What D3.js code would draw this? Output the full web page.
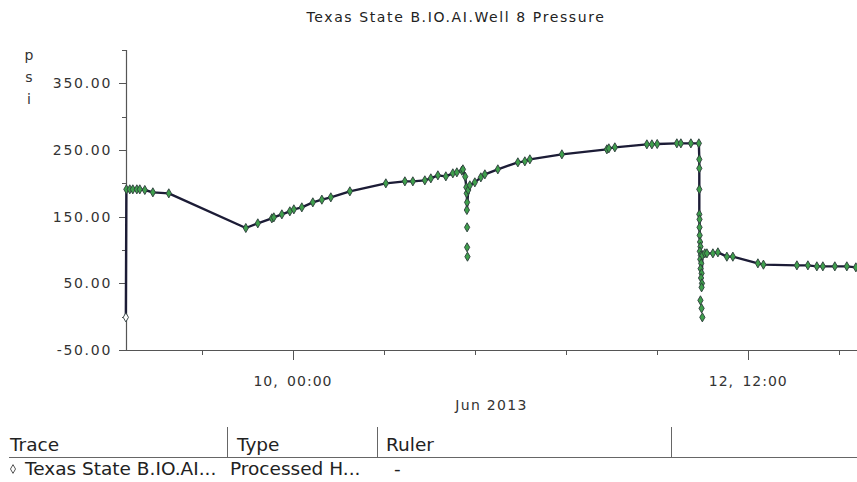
<!DOCTYPE html>
<html>
<head>
<meta charset="utf-8">
<script src="https://cdn.jsdelivr.net/npm/d3@7"></script>
<style>
  html, body { margin: 0; padding: 0; background: #fff; }
  svg { display: block; font-family: "DejaVu Sans", sans-serif; }
</style>
</head>
<body>
<div id="chart"></div>
<script>
// hours after 2013-06-09 00:00 → psi
const hours = [
  1.98, 2.05, 2.50, 2.90, 3.43, 3.82, 4.48, 5.54, 7.64, 17.79,
  19.37, 21.22, 21.48, 22.54, 23.59, 24.12, 25.17, 26.62, 27.81, 28.99,
  31.50, 36.24, 38.75, 39.80, 41.38, 42.17, 43.10, 44.15, 45.07, 45.60,
  46.26, 46.40, 46.70, 46.85, 46.90, 46.95, 46.92, 47.10, 47.31, 47.97,
  48.76, 49.29, 51.00, 53.64, 54.56, 55.22, 59.44, 65.37, 65.63, 66.42,
  70.64, 71.30, 72.00, 74.59, 75.12, 76.44, 77.49, 77.55, 77.55, 77.55,
  77.55, 77.58, 77.58, 77.60, 77.65, 77.70, 77.62, 77.75, 77.68, 77.80,
  77.72, 77.85, 77.78, 77.90, 77.85, 77.95, 78.28, 78.55, 79.34, 80.00,
  81.18, 81.97, 85.27, 86.00, 90.41, 91.86, 93.04, 93.83, 95.41, 96.99,
  98.18
];
const psi = [
  -1, 191, 191, 191, 191, 191, 190, 186.5, 185, 133,
  140, 147.5, 149, 153.5, 158, 161, 164, 171.5, 175.5, 179,
  188, 200, 203, 203, 204.5, 207.5, 212, 210.5, 215, 216.5,
  219, 221, 210, 194, 185, 171.5, 160, 190, 197, 201.5,
  209, 213.5, 221, 231.5, 233, 236, 243.5, 251, 252.5, 254,
  258.5, 258.5, 259, 260, 260, 260, 260, 236, 222.5, 191,
  153.5, 146, 134, 122, 112, 105, 98, 92, 86, 80,
  72, 65, 58, 50, 44, 92, 95, 95, 95, 96.5,
  90, 90, 80, 78, 77, 77, 75.5, 75.5, 75.5, 75.5,
  74
];
// stray samples during the two drops (markers only)
const spikeHours = [46.95, 46.95, 47.00, 77.70, 77.85, 77.95];
const spikePsi   = [134, 104, 90, 24.5, 12.5, -1];

const yTicks      = [-50, 0, 50, 100, 150, 200, 250, 300, 350, 400];
const yLabelTicks = [-50, 50, 150, 250, 350];
const xLabelTicks = ['2013-06-10T00:00', '2013-06-12T12:00'];
const xLabels     = ['10, 00:00', '12, 12:00'];

const title     = 'Texas State B.IO.AI.Well 8 Pressure';
const unit      = ['p', 's', 'i'];
const monthText = 'Jun 2013';
const headers   = ['Trace', 'Type', 'Ruler'];
const rowCells  = ['Texas State B.IO.AI...', 'Processed H...', '-'];

const W = 857, H = 482;
const base = new Date(2013, 5, 9);
const toDate = h => new Date(base.getTime() + h * 3600e3);

const data   = hours.map((h, i) => ({ t: toDate(h), v: psi[i] }));
const spikes = spikeHours.map((h, i) => ({ t: toDate(h), v: spikePsi[i] }));

const svg = d3.select('#chart').append('svg')
  .attr('width', W).attr('height', H);

const x = d3.scaleTime()
  .domain([toDate(2), toDate(98.33)])
  .range([126, W]);
const y = d3.scaleLinear().domain([-50, 400]).range([350, 50]);

const textCol = '#333';
// plain hyphen for negatives, as in the source chart
const fmtY = d3.formatLocale({ decimal: '.', thousands: ',', grouping: [3], currency: ['', ''], minus: '-' }).format('.2f');

// title
svg.append('text')
  .attr('x', 456).attr('y', 22)
  .attr('text-anchor', 'middle')
  .attr('font-size', 14).attr('letter-spacing', 1.6)
  .attr('fill', '#222')
  .text(title);

// unit, letters stacked
svg.selectAll('.unit').data(unit).join('text')
  .attr('class', 'unit')
  .attr('x', 29).attr('y', (d, i) => [60, 82, 104][i])
  .attr('text-anchor', 'middle')
  .attr('font-size', 14).attr('fill', textCol)
  .text(d => d);

// y axis
const yAxis = svg.append('g');
yAxis.append('line')
  .attr('x1', 126.5).attr('x2', 126.5)
  .attr('y1', y(400)).attr('y2', y(-50))
  .attr('stroke', '#555').attr('stroke-width', 1.2);
yAxis.selectAll('.ytick').data(yTicks).join('line')
  .attr('class', 'ytick')
  .attr('x1', d => yLabelTicks.includes(d) ? 119 : 122).attr('x2', 126)
  .attr('y1', d => Math.round(y(d)) + 0.5).attr('y2', d => Math.round(y(d)) + 0.5)
  .attr('stroke', '#555');
yAxis.selectAll('.ylab').data(yLabelTicks).join('text')
  .attr('class', 'ylab')
  .attr('x', 112).attr('y', d => y(d) + 5)
  .attr('text-anchor', 'end')
  .attr('font-size', 14).attr('letter-spacing', 1.7)
  .attr('fill', textCol)
  .text(d => fmtY(d));

// x axis
const xTickDates = x.ticks(d3.timeHour.every(12));
const isMajor = d => xLabelTicks.some(s => +new Date(s) === +d);
const xAxis = svg.append('g');
xAxis.append('line')
  .attr('x1', 126).attr('x2', W)
  .attr('y1', 350.5).attr('y2', 350.5)
  .attr('stroke', '#555').attr('stroke-width', 1.2);
xAxis.selectAll('.xtick').data(xTickDates).join('line')
  .attr('class', 'xtick')
  .attr('x1', d => Math.round(x(d)) + 0.5).attr('x2', d => Math.round(x(d)) + 0.5)
  .attr('y1', 351).attr('y2', d => isMajor(d) ? 360 : 355)
  .attr('stroke', '#555');
xAxis.selectAll('.xlab').data(xLabelTicks).join('text')
  .attr('class', 'xlab')
  .attr('x', d => x(new Date(d))).attr('y', 386)
  .attr('text-anchor', 'middle')
  .attr('font-size', 14).attr('letter-spacing', 1).attr('word-spacing', 3)
  .attr('fill', textCol)
  .text((d, i) => xLabels[i]);
svg.append('text')
  .attr('x', (126 + W) / 2).attr('y', 410)
  .attr('text-anchor', 'middle')
  .attr('font-size', 14).attr('letter-spacing', 1.3)
  .attr('fill', textCol)
  .text(monthText);

// trace
const plot = svg.append('g');
const line = d3.line().x(d => x(d.t)).y(d => y(d.v));
plot.append('path')
  .datum(data)
  .attr('d', line)
  .attr('fill', 'none')
  .attr('stroke', '#1c1c36')
  .attr('stroke-width', 2.4)
  .attr('stroke-linejoin', 'round');

const marker = d3.symbol(d3.symbolDiamond, 24);
plot.selectAll('.pt').data(data.concat(spikes)).join('path')
  .attr('class', 'pt')
  .attr('d', marker)
  .attr('transform', d => `translate(${x(d.t)},${y(d.v)})`)
  .attr('fill', (d, i) => i === 0 ? '#fff' : '#3f9f4c')
  .attr('stroke', '#2d3b3b')
  .attr('stroke-width', 0.9);

// legend table
const colX = [9, 227, 377, 671];
const table = svg.append('g');
table.selectAll('.sep').data(colX.slice(1)).join('line')
  .attr('class', 'sep')
  .attr('x1', d => d + 0.5).attr('x2', d => d + 0.5)
  .attr('y1', 427).attr('y2', 457)
  .attr('stroke', '#666');
table.append('line')
  .attr('x1', 9).attr('x2', W)
  .attr('y1', 457.5).attr('y2', 457.5)
  .attr('stroke', '#666');
table.selectAll('.hdr').data(headers).join('text')
  .attr('class', 'hdr')
  .attr('x', (d, i) => [10, 237, 386][i]).attr('y', 451)
  .attr('font-size', 18.5).attr('fill', '#222')
  .text(d => d);
table.append('path')
  .attr('d', d3.symbol(d3.symbolDiamond, 22))
  .attr('transform', 'translate(13,469)')
  .attr('fill', '#fff').attr('stroke', '#555');
table.selectAll('.cell').data(rowCells).join('text')
  .attr('class', 'cell')
  .attr('x', (d, i) => [25, 230, 394][i]).attr('y', 475)
  .attr('font-size', 18.5).attr('fill', '#222')
  .text(d => d);
</script>
</body>
</html>
